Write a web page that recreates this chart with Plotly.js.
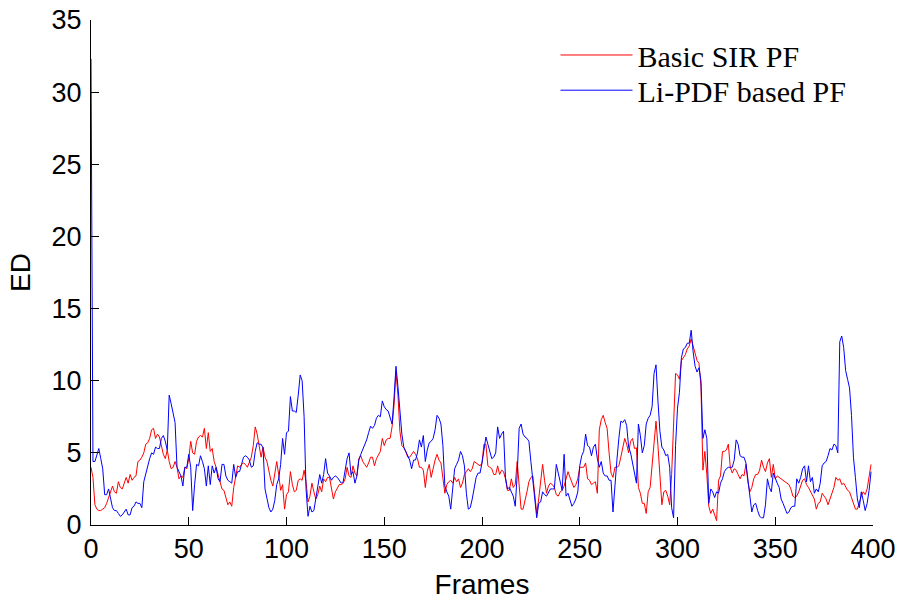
<!DOCTYPE html>
<html>
<head>
<meta charset="utf-8">
<script src="https://cdn.plot.ly/plotly-3.0.1.min.js"></script>
<style>html,body{margin:0;padding:0;background:#fff;}#chart{width:900px;height:602px;}</style>
</head>
<body>
<div id="chart"></div>
<script>
// Series names
const seriesNames = ["Basic SIR PF", "Li-PDF based PF"];
const seriesColors = ["#ff0000", "#0000ff"];

// ED per frame (frames 0..399), Basic SIR PF
const basicSIR = [
4.0,3.3,1.4,1.1,1.0,1.0,1.1,1.2,1.5,1.9,
2.4,2.7,2.3,2.2,3.0,2.6,2.5,2.9,3.3,2.9,
3.5,3.1,3.3,3.4,4.4,4.5,4.7,5.0,5.6,5.7,
6.0,6.6,6.7,6.0,6.3,6.1,5.6,4.9,4.6,5.2,
4.4,3.9,4.0,4.4,4.0,3.2,3.4,3.3,4.0,3.9,
4.6,5.8,5.0,4.9,5.8,6.1,6.2,6.1,6.7,5.3,
6.4,5.1,5.3,4.4,4.0,3.5,3.1,2.5,2.4,1.9,
1.4,1.6,1.3,2.6,3.5,4.1,4.0,4.2,4.3,4.2,
4.0,4.3,4.7,5.5,6.8,6.3,5.4,4.7,5.4,4.7,
4.4,3.7,3.1,2.7,3.5,4.4,3.5,2.4,2.8,1.1,
2.1,2.3,3.7,2.8,2.3,2.4,3.1,3.2,3.1,3.8,
3.0,1.6,2.0,2.9,2.3,1.8,2.1,2.7,2.3,3.2,
3.0,3.3,3.3,2.6,1.8,2.3,2.6,2.8,2.8,2.9,
3.2,4.0,3.4,3.3,4.1,3.6,3.4,4.6,4.8,4.4,
4.2,4.0,4.3,4.7,4.7,4.1,4.6,4.9,5.1,6.0,
5.5,5.9,6.0,6.0,6.8,8.3,10.6,9.0,6.5,5.5,
5.35,5.1,4.7,4.7,4.9,5.1,4.9,4.6,4.0,4.0,
3.8,2.6,3.7,4.2,3.3,4.0,4.5,4.9,4.5,4.3,
3.3,2.2,2.8,3.0,3.1,2.9,3.3,3.0,3.2,2.6,
2.9,3.5,3.7,3.9,3.7,3.9,4.4,4.3,4.2,4.1,
4.3,5.6,5.6,4.1,4.0,3.9,3.5,3.5,4.1,3.5,
3.8,3.7,3.2,2.4,2.4,3.2,2.6,2.8,4.4,2.6,
1.1,1.1,1.6,2.3,3.0,3.3,3.4,2.0,0.8,1.8,
2.9,4.2,3.1,2.2,2.7,2.9,2.8,2.6,2.1,2.0,
2.3,2.4,2.7,3.2,3.7,3.3,2.9,2.6,2.8,3.2,
4.0,4.0,4.0,4.3,3.2,3.1,2.8,2.9,3.0,2.2,
6.6,7.3,7.6,7.1,6.7,5.0,3.6,3.3,4.0,4.0,
4.1,4.7,5.4,6.0,5.6,5.0,5.8,6.0,5.3,5.35,
2.6,2.2,1.5,1.5,0.8,2.3,2.6,4.3,5.8,7.2,
5.5,3.5,1.4,2.3,2.4,2.0,1.4,3.5,7.0,10.5,
10.4,10.1,11.4,11.6,11.8,12.2,12.4,12.9,12.4,11.9,
11.4,11.2,9.6,3.8,5.1,3.5,1.3,0.8,1.1,0.7,
0.3,3.1,3.4,5.1,5.1,5.2,5.6,4.0,3.6,3.9,
3.8,3.5,3.2,3.5,3.4,4.2,3.0,2.3,2.6,3.2,
3.5,3.5,3.8,4.5,4.0,3.7,4.3,4.6,3.3,4.2,
3.2,3.4,3.3,3.2,3.1,3.0,2.9,2.8,2.5,2.0,
1.9,2.0,2.3,2.7,3.1,3.2,2.8,2.6,2.3,2.0,
1.8,1.1,1.5,1.6,2.2,2.0,1.8,1.4,1.8,2.3,
2.6,3.3,3.1,3.2,2.8,2.9,2.6,2.4,2.3,1.9,
1.4,1.1,1.1,1.6,2.0,2.3,2.1,2.5,3.3,4.2
];

// ED per frame (frames 0..399), Li-PDF based PF
const liPDF = [
32.3,4.4,4.4,4.9,5.3,4.6,3.9,2.1,2.1,2.5,
1.8,1.2,1.0,1.0,0.8,0.6,0.7,0.9,1.1,0.7,
0.7,1.2,1.3,1.6,1.5,1.5,1.2,3.0,3.5,4.2,
4.6,5.0,4.9,5.4,5.3,5.3,6.0,6.2,5.8,5.2,
9.0,8.4,7.8,7.1,4.0,3.7,3.4,2.7,4.0,4.0,
4.9,4.0,1.0,2.8,4.2,4.1,4.8,4.4,3.9,2.7,
4.1,2.8,4.1,3.6,4.0,3.2,3.0,4.2,4.2,3.4,
3.1,3.0,2.9,4.2,3.3,3.7,3.7,4.2,4.7,4.8,
4.7,4.5,4.0,4.1,5.1,5.7,5.6,5.6,5.35,2.5,
1.9,1.2,0.9,1.1,1.7,2.8,3.2,4.2,6.0,4.9,
6.4,6.5,8.9,7.9,7.9,7.8,9.0,10.4,10.0,7.5,
2.5,0.6,1.3,0.9,1.0,1.8,2.4,3.5,2.9,3.5,
4.6,3.6,3.4,3.1,3.3,3.4,3.3,3.1,2.9,3.0,
3.8,4.6,5.0,3.5,3.7,2.9,3.4,4.5,4.9,5.2,
5.5,5.9,6.4,6.85,6.7,6.9,7.4,7.6,7.5,8.6,
8.2,8.0,7.9,7.5,7.0,8.8,11.0,9.6,8.0,6.3,
5.4,5.1,4.8,4.5,3.9,4.5,4.5,5.0,5.9,5.4,
6.2,4.4,5.2,5.7,5.8,6.0,6.6,7.6,7.4,7.0,
5.5,2.7,2.3,2.0,1.1,2.5,3.9,4.2,4.5,5.1,
4.8,4.1,2.2,1.1,1.2,1.8,2.7,3.3,3.6,3.6,
4.3,5.4,6.1,5.6,5.0,4.6,4.7,5.0,6.8,6.0,
6.3,6.5,3.3,2.5,2.6,2.3,2.0,1.3,3.5,6.7,
7.0,6.3,6.1,6.0,5.8,4.4,3.1,1.4,0.5,1.5,
1.6,2.3,2.1,2.0,2.3,2.5,2.5,2.5,4.2,3.6,
3.1,2.4,4.9,2.0,2.2,1.7,1.3,1.5,1.8,2.3,
4.1,4.8,5.1,6.3,5.5,5.4,4.8,5.4,5.6,4.6,
4.0,4.4,3.6,3.4,3.4,3.1,3.1,0.9,3.0,4.5,
6.0,7.2,7.1,7.3,6.9,5.4,5.0,4.3,3.4,2.9,
7.0,6.2,5.0,5.5,7.0,7.4,7.6,8.2,10.5,11.1,
8.6,6.5,5.4,5.2,4.8,4.9,4.0,1.2,0.5,5.5,
8.1,9.2,11.6,12.2,12.3,12.6,12.6,13.5,12.0,11.0,
10.6,10.9,10.0,6.0,6.6,6.0,1.5,2.5,2.3,1.9,
2.3,2.2,2.9,3.2,3.7,3.9,4.0,4.0,4.0,4.5,
5.9,5.6,4.8,4.7,4.7,4.3,3.2,1.9,0.9,1.4,
1.5,1.0,0.6,0.5,0.5,1.4,3.2,2.6,2.3,3.6,
3.2,2.9,2.6,1.8,1.5,1.2,0.8,0.9,1.2,1.3,
1.3,3.2,2.9,3.3,3.9,4.1,3.0,4.1,3.0,3.3,
2.2,2.5,2.3,2.9,4.1,4.3,4.4,4.8,5.3,5.2,
5.6,5.5,5.0,12.7,13.1,12.3,10.7,10.1,9.5,7.6,
4.7,3.3,1.8,1.2,2.3,1.7,1.0,1.5,2.4,3.7
];

const frames = basicSIR.map((_, i) => i);
const xTicks = [0, 50, 100, 150, 200, 250, 300, 350, 400];
const yTicks = [0, 5, 10, 15, 20, 25, 30, 35];

const legendIds = ["legend", "legend2"];
const traces = [basicSIR, liPDF].map((vals, k) => ({
  type: "scatter",
  mode: "lines",
  name: seriesNames[k],
  legend: legendIds[k],
  x: frames,
  y: vals,
  line: {color: seriesColors[k], width: 1}
}));

const tickFont = {family: "Liberation Sans, Arial, sans-serif", size: 27, color: "#000"};
const titleFont = {family: "Liberation Sans, Arial, sans-serif", size: 28, color: "#000"};
const legendFont = {family: "Liberation Serif, Times New Roman, serif", size: 30, color: "#000"};

function legendBox(yPos) {
  return {
    x: 0.594, y: yPos, xanchor: "left", yanchor: "middle",
    bgcolor: "rgba(0,0,0,0)", borderwidth: 0,
    font: legendFont, itemwidth: 72
  };
}

const layout = {
  width: 900,
  height: 602,
  paper_bgcolor: "#fff",
  plot_bgcolor: "#fff",
  margin: {l: 91, r: 27, t: 20, b: 77},
  showlegend: true,
  legend: legendBox(0.9307),
  legend2: legendBox(0.861),
  xaxis: {
    range: [0, 400],
    tickvals: xTicks,
    ticks: "inside", ticklen: 8, tickcolor: "#000", tickwidth: 1,
    showline: true, linecolor: "#000", linewidth: 1, mirror: false,
    showgrid: false, zeroline: false,
    tickfont: tickFont,
    title: {text: "Frames", font: titleFont, standoff: 10}
  },
  yaxis: {
    range: [0, 35],
    tickvals: yTicks,
    ticks: "inside", ticklen: 8, tickcolor: "#000", tickwidth: 1,
    showline: true, linecolor: "#000", linewidth: 1, mirror: false,
    showgrid: false, zeroline: false,
    ticklabelstandoff: 3,
    tickfont: tickFont,
    title: {text: "ED", font: titleFont, standoff: 12}
  }
};

Plotly.newPlot("chart", traces, layout, {displayModeBar: false, staticPlot: true});
</script>
</body>
</html>
